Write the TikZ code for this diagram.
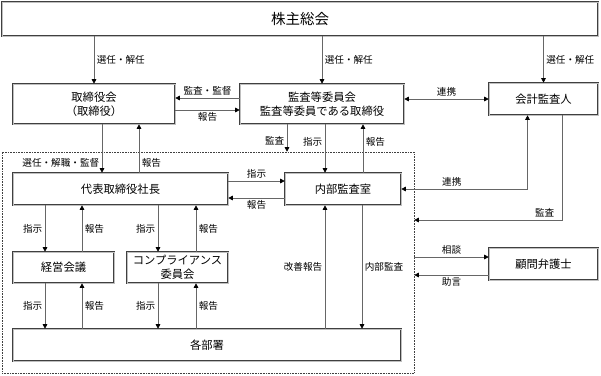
\documentclass[tikz,border=0pt]{standalone}
\usepackage{fontspec}
\setmainfont{Noto Sans CJK JP}
\usetikzlibrary{arrows.meta,calc}

\begin{document}
\begin{tikzpicture}[x=1pt,y=-1pt,
  box/.style={draw=black!75, double=black!25, double distance=0.9pt, line width=0.6pt,
    fill=white, align=center, inner sep=0pt, font=\fontsize{11.3}{14}\selectfont},
  lbl/.style={font=\fontsize{9.6}{11}\selectfont, inner sep=2.5pt},
  tip/.tip={Triangle[length=4.5pt,width=4.5pt,color=black]},
  arr/.style={draw=black!60, line width=0.6pt, -tip},
  arrb/.style={draw=black!60, line width=0.6pt, tip-tip}]
\useasboundingbox (0,0) rectangle (601,375);

% 監督の範囲
\node[draw=black!75, densely dotted, line width=0.6pt, minimum width=412, minimum height=221] (waku) at (208,262.5) {};

% 各機関
\node[box, minimum width=596, minimum height=34, font=\fontsize{14.5}{16}\selectfont] (soukai) at (300,19) {株主総会};
\node[box, minimum width=162, minimum height=40] (torishimari) at (94,104) {取締役会\\（取締役）};
\node[box, minimum width=164, minimum height=40] (kansa) at (322,104) {監査等委員会\\監査等委員である取締役};
\node[box, minimum width=109, minimum height=32] (kaikei) at (543.5,99) {会計監査人};
\node[box, minimum width=215, minimum height=32] (daihyo) at (120.5,189) {代表取締役社長};
\node[box, minimum width=116, minimum height=32] (naibu) at (343,189) {内部監査室};
\node[box, minimum width=101, minimum height=31] (keiei) at (63.5,267.5) {経営会議};
\node[box, minimum width=101, minimum height=31] (comp) at (177.5,267.5) {コンプライアンス\\委員会};
\node[box, minimum width=388, minimum height=32] (kakubu) at (207,345) {各部署};
\node[box, minimum width=109, minimum height=32] (bengo) at (543.5,264) {顧問弁護士};

% 株主総会から
\draw[arr] (torishimari.north |- soukai.south) -- (torishimari.north) node[lbl, right, midway] {選任・解任};
\draw[arr] (kansa.north |- soukai.south) -- (kansa.north) node[lbl, right, midway] {選任・解任};
\draw[arr] (kaikei.north |- soukai.south) -- (kaikei.north) node[lbl, right, midway] {選任・解任};

% 取締役会・監査等委員会・会計監査人
\draw[arr] ($(kansa.west)+(0,-6)$) -- ($(torishimari.east)+(0,-6)$) node[lbl, above, midway] {監査・監督};
\draw[arr] ($(torishimari.east)+(0,6)$) -- ($(kansa.west)+(0,6)$) node[lbl, below, midway] {報告};
\draw[arrb] (kansa.east |- kaikei.west) -- (kaikei.west) node[lbl, above, midway] {連携};

% 取締役会と代表取締役社長
\draw[arr] ($(torishimari.south)+(8,0)$) -- ($(daihyo.north)+(-18.5,0)$) node[lbl, left, pos=.8] {選任・解職・監督};
\draw[arr] ($(daihyo.north)+(18.5,0)$) -- ($(torishimari.south)+(45,0)$) node[lbl, right, pos=.2] {報告};

% 監査等委員会から
\draw[arr] ($(kansa.south)+(-35,0)$) -- ($(waku.north)+(79,0)$) node[lbl, left, pos=.6] {監査};
\draw[arr] ($(kansa.south)+(3,0)$) -- ($(naibu.north)+(-18,0)$) node[lbl, left, pos=.37] {指示};
\draw[arr] ($(naibu.north)+(20,0)$) -- ($(kansa.south)+(41,0)$) node[lbl, right, pos=.63] {報告};

% 代表取締役社長と内部監査室
\draw[arr] ($(daihyo.east)+(0,-8)$) -- ($(naibu.west)+(0,-8)$) node[lbl, above, midway] {指示};
\draw[arr] ($(naibu.west)+(0,9)$) -- ($(daihyo.east)+(0,9)$) node[lbl, below, midway] {報告};

% 会計監査人から
\draw[arrb] ($(kaikei.south)+(-16,0)$) |- (naibu.east) node[lbl, above, pos=.8] {連携};
\draw[arr] ($(kaikei.south)+(19,0)$) |- ($(waku.east)+(0,-42.5)$) node[lbl, above, pos=.56] {監査};

% 顧問弁護士
\draw[arr] ($(waku.east)+(0,-5.5)$) -- ($(bengo.west)+(0,-7)$) node[lbl, above, midway] {相談};
\draw[arr] ($(bengo.west)+(0,11)$) -- ($(waku.east)+(0,12.5)$) node[lbl, below, midway] {助言};

% 代表取締役社長から会議体へ
\draw[arr] ($(daihyo.south)+(-75.5,0)$) -- ($(keiei.north)+(-18.5,0)$) node[lbl, left, midway] {指示};
\draw[arr] ($(keiei.north)+(18.5,0)$) -- ($(daihyo.south)+(-38.5,0)$) node[lbl, right, midway] {報告};
\draw[arr] ($(daihyo.south)+(37.5,0)$) -- ($(comp.north)+(-19.5,0)$) node[lbl, left, midway] {指示};
\draw[arr] ($(comp.north)+(18.5,0)$) -- ($(daihyo.south)+(75.5,0)$) node[lbl, right, midway] {報告};

% 会議体から各部署へ
\draw[arr] ($(keiei.south)+(-18.5,0)$) -- ($(kakubu.north)+(-162,0)$) node[lbl, left, midway] {指示};
\draw[arr] ($(kakubu.north)+(-125,0)$) -- ($(keiei.south)+(18.5,0)$) node[lbl, right, midway] {報告};
\draw[arr] ($(comp.south)+(-19.5,0)$) -- ($(kakubu.north)+(-49,0)$) node[lbl, left, midway] {指示};
\draw[arr] ($(kakubu.north)+(-11,0)$) -- ($(comp.south)+(18.5,0)$) node[lbl, right, midway] {報告};

% 内部監査室と各部署
\draw[arr] ($(kakubu.north)+(118,0)$) -- ($(naibu.south)+(-18,0)$) node[lbl, left, midway] {改善報告};
\draw[arr] ($(naibu.south)+(19,0)$) -- ($(kakubu.north)+(155,0)$) node[lbl, right, midway] {内部監査};
\end{tikzpicture}
\end{document}
